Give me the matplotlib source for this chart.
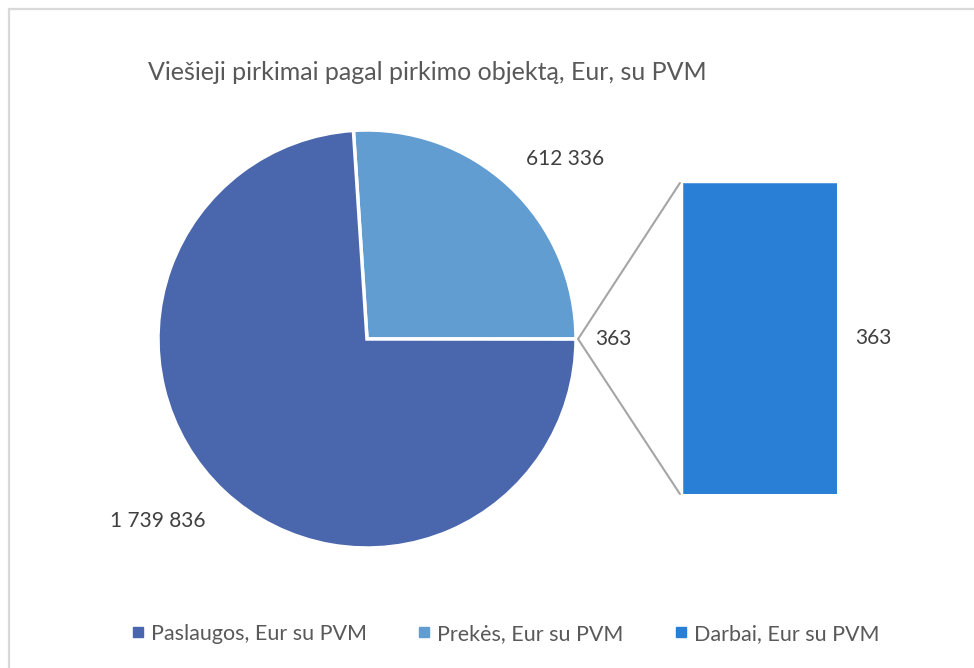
import matplotlib
matplotlib.use("Agg")
import matplotlib.pyplot as plt
from matplotlib.patches import ConnectionPatch, Rectangle
from matplotlib.lines import Line2D

categories = ["Paslaugos, Eur su PVM", "Prekės, Eur su PVM", "Darbai, Eur su PVM"]
values = [1739836, 612336, 363]
colors = ["#4A66AC", "#629DD1", "#297FD5"]
title = "Viešieji pirkimai pagal pirkimo objektą, Eur, su PVM"

def fmt(v):
    return f"{v:,}".replace(",", " ")

plt.rcParams['font.family'] = ['Lato', 'DejaVu Sans']

W, H = 974, 668
fig = plt.figure(figsize=(W / 100, H / 100), dpi=100)
fig.patch.set_facecolor("white")

# chart border
fig.patches.append(Rectangle((9 / W, -0.05), 1.1, 1 - 9 / H + 0.05, transform=fig.transFigure,
                             fill=False, edgecolor="#D9D9D9", linewidth=1.6))

# pie axes (center 367,339 r=209)
cx, cy, r = 367, 339, 209
ax = fig.add_axes([(cx - r) / W, (H - cy - r) / H, 2 * r / W, 2 * r / H])
total = sum(values)
# order: Darbai (other, centered at 0 deg), Prekės, Paslaugos  (counter-clockwise)
pie_vals = [values[2], values[1], values[0]]
pie_cols = [colors[2], colors[1], colors[0]]
start = -360 * values[2] / total / 2
ax.pie(pie_vals, colors=pie_cols, startangle=start, counterclock=True, radius=1,
       wedgeprops=dict(edgecolor="white", linewidth=2.5))
ax.set_xlim(-1, 1)
ax.set_ylim(-1, 1)
ax.set_aspect("equal")
ax.axis("off")

lab_col = "#404040"
fs = 15
ax.text(0.95, 0.86, fmt(values[1]), ha="center", va="center", fontsize=fs, color=lab_col)
ax.text(1.18, 0.0, fmt(values[2]), ha="center", va="center", fontsize=fs, color=lab_col)
ax.text(-1.0, -0.87, fmt(values[0]), ha="center", va="center", fontsize=fs, color=lab_col)

# bar axes
bx0, bx1, by0, by1 = 683, 837, 183, 494
ax2 = fig.add_axes([bx0 / W, (H - by1) / H, (bx1 - bx0) / W, (by1 - by0) / H])
ax2.bar([0], [values[2]], width=1.0, color=colors[2], edgecolor="#5B9BE0", linewidth=0.8)
ax2.set_xlim(-0.5, 0.5)
ax2.set_ylim(0, values[2])
ax2.axis("off")
ax2.text(0.5 + 36 / (bx1 - bx0), values[2] / 2, fmt(values[2]), ha="center", va="center",
         fontsize=fs, color=lab_col, clip_on=False)

# connector lines
for yv in (values[2], 0):
    con = ConnectionPatch(xyA=(1.01, 0), coordsA=ax.transData,
                          xyB=(-0.52, yv), coordsB=ax2.transData,
                          color="#A5A5A5", linewidth=1.5)
    fig.add_artist(con)

fig.text(148 / W, 1 - 72 / H, title, ha="left", va="center", fontsize=18, color="#595959")

handles = [Line2D([0], [0], marker="s", linestyle="none", markersize=6.5,
                  markerfacecolor=c, markeredgecolor=c) for c in colors]
fig.legend(handles, categories, loc="center", bbox_to_anchor=(505 / W, 1 - 634 / H), ncol=3,
           frameon=False, fontsize=15.5, labelcolor="#595959", handletextpad=0.25,
           columnspacing=2.3, handlelength=0.7)

fig.savefig("out.png", dpi=100, facecolor="white")
